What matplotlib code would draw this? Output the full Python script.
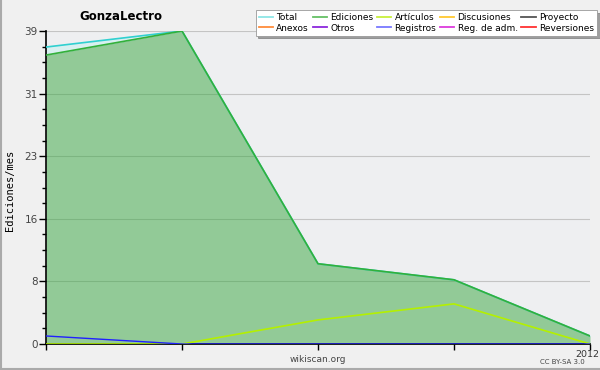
import numpy as np
import matplotlib
matplotlib.use('Agg')
import matplotlib.pyplot as plt
import matplotlib.transforms as mtransforms
from matplotlib.lines import Line2D

# monthly edits, five points, last one is 2012
x_pos = [0, 1, 2, 3, 4]
total = [37, 39, 10, 8, 1]
ediciones = [36, 39, 10, 8, 1]
articulos = [0, 0, 3, 5, 0]
registros = [1, 0, 0, 0, 0]
x_labels = ['', '', '', '', '2012']
y_max = 39

legend_names = ['Total', 'Ediciones', 'Artículos', 'Discusiones', 'Proyecto',
                'Anexos', 'Otros', 'Registros', 'Reg. de adm.', 'Reversiones']
legend_colors = ['#8ee6e6', '#66c066', '#c8f03c', '#ffc830', '#555555',
                 '#ff8c3c', '#8c28dc', '#7878ff', '#dc3cdc', '#ff3232']

fig = plt.figure(figsize=(6, 3.7), dpi=100, facecolor='#f0f0f0')
ax = fig.add_axes([46/600, 1 - 344/370, 544/600, 313/370])
ax.set_facecolor('#eeeff1')

# grid
yt = [i * y_max / 5 for i in range(6)]
ax.set_yticks(yt)
ax.set_yticklabels([str(int(round(v))) for v in yt])
ax.set_yticks([i * y_max / 20 for i in range(21)], minor=True)
ax.yaxis.grid(True, which='major', color='#c4c4c4', linewidth=0.8)
ax.set_axisbelow(True)

ax.fill_between(x_pos, ediciones, total, color='#d8f0f0', zorder=2)
ax.fill_between(x_pos, 0, ediciones, color='#38a73f', alpha=0.5, linewidth=0, zorder=2)
ax.plot(x_pos, total, color='#30d0d0', linewidth=1.2, zorder=3)
ax.plot(x_pos, ediciones, color='#33b03a', linewidth=1.2, zorder=4)
ax.plot(x_pos, articulos, color='#b4f000', linewidth=1.2, zorder=4)
ax.plot(x_pos, registros, color='#2020ff', linewidth=1.0, zorder=5)

ax.set_xlim(0, 4)
ax.set_ylim(0, y_max)
ax.set_xticks(x_pos)
ax.set_xticklabels(x_labels)
ax.tick_params(axis='x', direction='out', length=4, width=1, pad=0, labelsize=6.8, labelcolor='#333333')
ax.tick_params(axis='y', which='major', direction='out', length=5, width=1, pad=1,
               labelsize=7.5, labelcolor='#444444')
ax.tick_params(axis='y', which='minor', direction='out', length=3, width=1)
# nudge the last label a little left so it stays inside the figure
shift = mtransforms.ScaledTranslation(-3/100, 0, fig.dpi_scale_trans)
for lab in ax.get_xticklabels():
    lab.set_transform(lab.get_transform() + shift)

for s in ['top', 'right']:
    ax.spines[s].set_visible(False)
for s in ['left', 'bottom']:
    ax.spines[s].set_color('black')
    ax.spines[s].set_linewidth(1.2)

fig.text(10/600, 1 - 190/370, 'Ediciones/mes', fontsize=7.5, family='DejaVu Sans Mono',
         rotation=90, ha='center', va='center')

fig.text(121/600, 1 - 17/370, 'GonzaLectro', fontsize=8.5, fontweight='bold',
         ha='center', va='center')
fig.text(318/600, 1 - 360/370, 'wikiscan.org', fontsize=6.5, color='#444444',
         ha='center', va='center')
fig.text(585/600, 1 - 362/370, 'CC BY-SA 3.0', fontsize=5, color='#444444',
         ha='right', va='center')

handles = [Line2D([0], [0], color=c, linewidth=1.3) for c in legend_colors]
# order so rows read left to right (matplotlib fills columns first)
order = [0, 5, 1, 6, 2, 7, 3, 8, 4, 9]
leg = fig.legend([handles[i] for i in order], [legend_names[i] for i in order],
                 ncol=5, loc='upper right', bbox_to_anchor=(597/600, 1 - 10/370),
                 fontsize=6.5, frameon=True, fancybox=False, shadow=True,
                 handlelength=1.6, handletextpad=0.35, columnspacing=0.4,
                 labelspacing=0.15, borderpad=0.35, borderaxespad=0)
leg.get_frame().set_edgecolor('#999999')
leg.get_frame().set_linewidth(0.6)

# figure border (left and bottom)
fig.add_artist(Line2D([0.5/600, 0.5/600], [0, 1], color='#aaaaaa', linewidth=1.5))
fig.add_artist(Line2D([0, 1], [1/370, 1/370], color='#aaaaaa', linewidth=1.5))

fig.savefig('out.png', dpi=100, facecolor=fig.get_facecolor())
